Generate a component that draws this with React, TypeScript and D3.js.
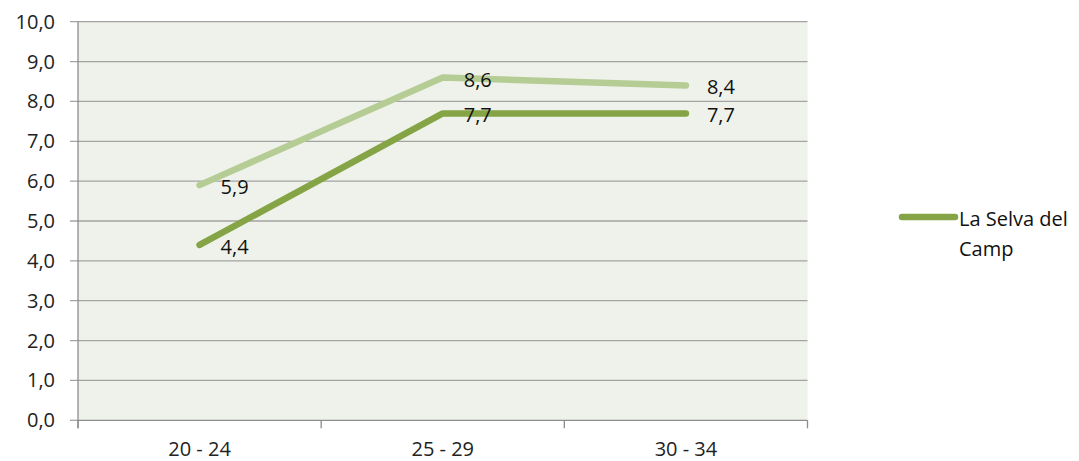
import React from "react";
import * as d3 from "d3";

const categories = ["20 - 24", "25 - 29", "30 - 34"];
const seriesSelva = [4.4, 7.7, 7.7];
const seriesOther = [5.9, 8.6, 8.4];
const yTicks = [0, 1, 2, 3, 4, 5, 6, 7, 8, 9, 10];
const legendLines = ["La Selva del", "Camp"];

const W = 1079, H = 461;
const left = 78, right = 807.5, top = 21.7, bottom = 420.3;
const FONT = "'Open Sans', 'Noto Sans', sans-serif";
const FS = 20;

export default function App() {
  const x = d3.scaleBand().domain(categories).range([left, right]);
  const y = d3.scaleLinear().domain([0, 10]).range([bottom, top]);
  const cx = (c: string) => (x(c) as number) + x.bandwidth() / 2;
  const line = d3.line<number>().x((_, i) => cx(categories[i])).y((v) => y(v));
  const fmt = (v: number) => v.toFixed(1).replace(".", ",");
  const bounds = [left, ...categories.map((c) => (x(c) as number) + x.bandwidth())];

  return (
    <svg width={W} height={H} style={{ position: "absolute", left: 0, top: 0 }}>
      <rect x={0} y={0} width={W} height={H} fill="#fff" />
      <rect x={left} y={top} width={right - left} height={bottom - top} fill="#EFF2EA" />
      {yTicks.map((t) => (
        <g key={t}>
          <line x1={left - 8} x2={t === 0 ? left : right} y1={y(t)} y2={y(t)} stroke="#A3A3A3" strokeWidth={1.3} />
          <text x={55} y={y(t)} dy="0.35em" textAnchor="end" fontFamily={FONT} fontSize={FS} fill="#222">
            {fmt(t)}
          </text>
        </g>
      ))}
      <line x1={left} x2={left} y1={top} y2={bottom + 8} stroke="#8C8C8C" strokeWidth={1.3} />
      <line x1={left} x2={right} y1={bottom} y2={bottom} stroke="#8C8C8C" strokeWidth={1.3} />
      {bounds.map((b, i) => (
        <line key={i} x1={b} x2={b} y1={bottom} y2={bottom + 8} stroke="#8C8C8C" strokeWidth={1.3} />
      ))}
      {categories.map((c) => (
        <text key={c} x={cx(c)} y={448.5} dy="0.35em" textAnchor="middle" fontFamily={FONT} fontSize={FS} fill="#222">
          {c}
        </text>
      ))}
      <path d={line(seriesOther) || ""} fill="none" stroke="#B5CC95" strokeWidth={6.5} strokeLinecap="round" strokeLinejoin="round" />
      <path d={line(seriesSelva) || ""} fill="none" stroke="#84A445" strokeWidth={6.5} strokeLinecap="round" strokeLinejoin="round" />
      {[seriesOther, seriesSelva].map((s, si) =>
        s.map((v, i) => (
          <text key={`${si}-${i}`} x={cx(categories[i]) + 21} y={y(v) + 2} dy="0.35em" fontFamily={FONT} fontSize={FS} fill="#111">
            {fmt(v)}
          </text>
        ))
      )}
      <line x1={902} x2={955} y1={217} y2={217} stroke="#84A445" strokeWidth={6.5} strokeLinecap="round" />
      {legendLines.map((l, i) => (
        <text key={l} x={959} y={219 + i * 30} dy="0.35em" fontFamily={FONT} fontSize={FS} fill="#111">
          {l}
        </text>
      ))}
    </svg>
  );
}
